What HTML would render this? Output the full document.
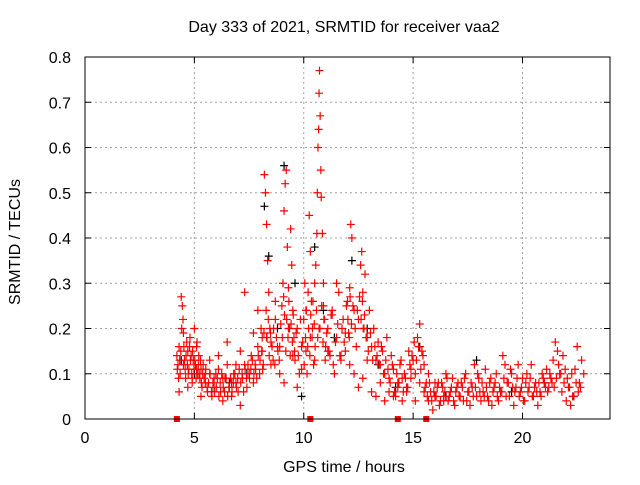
<!DOCTYPE html>
<html><head><meta charset="utf-8"><style>
body{margin:0;background:#fff}
svg text{font-family:"Liberation Sans",sans-serif;font-size:16px;fill:#000}
</style></head><body>
<svg id="chart" width="640" height="480" xmlns="http://www.w3.org/2000/svg">
<rect width="640" height="480" fill="#fff"/>
<g id="grid"></g>
<g id="ticks"></g>
<g id="black"></g>
<g id="red"></g>
<g id="marks"></g>
<rect x="85" y="57" width="525" height="362" fill="none" stroke="#000"/>
<text x="344" y="32" text-anchor="middle">Day 333 of 2021, SRMTID for receiver vaa2</text>
<text x="344" y="472" text-anchor="middle">GPS time / hours</text>
<text transform="translate(20,242) rotate(-90)" text-anchor="middle">SRMTID / TECUs</text>
</svg>
<script>
const xTicks=[0,5,10,15,20];
const yTicks=[0,0.1,0.2,0.3,0.4,0.5,0.6,0.7,0.8];
const yTickLabels=["0","0.1","0.2","0.3","0.4","0.5","0.6","0.7","0.8"];
const markerTimes=[4.2,10.3,14.3,15.6];
const redT=[4.2,4.25,4.3,4.35,4.4,4.45,4.5,4.55,4.6,4.65,4.7,4.75,4.8,4.85,4.9,4.95,5.0,5.05,5.1,5.15,5.2,5.25,5.3,5.35,5.4,5.5,5.6,5.7,5.8,5.9,6.0,6.1,6.2,6.3,6.4,6.5,6.6,6.7,6.8,6.9,7.0,7.1,7.2,7.3,7.4,7.5,7.6,7.7,7.8,7.9,8.0,8.05,8.1,8.15,8.2,8.25,8.3,8.35,8.4,8.45,8.5,8.6,8.7,8.8,8.9,9.0,9.05,9.1,9.15,9.2,9.25,9.3,9.35,9.4,9.45,9.5,9.55,9.6,9.7,9.8,9.9,10.0,10.05,10.1,10.15,10.2,10.25,10.3,10.35,10.4,10.45,10.5,10.55,10.6,10.62,10.65,10.68,10.7,10.72,10.75,10.78,10.8,10.85,10.9,10.95,11.0,11.1,11.2,11.3,11.4,11.5,11.6,11.7,11.8,11.9,12.0,12.05,12.1,12.15,12.2,12.3,12.4,12.5,12.6,12.65,12.7,12.75,12.8,12.9,13.0,13.1,13.2,13.3,13.4,13.5,13.6,13.7,13.8,13.9,14.0,14.1,14.2,14.3,14.4,14.5,14.6,14.7,14.8,14.9,15.0,15.1,15.2,15.3,15.4,15.5,15.6,15.7,15.8,15.9,16.0,16.1,16.2,16.3,16.4,16.5,16.6,16.7,16.8,16.9,17.0,17.1,17.2,17.3,17.4,17.5,17.6,17.7,17.8,17.9,18.0,18.1,18.2,18.3,18.4,18.5,18.6,18.7,18.8,18.9,19.0,19.1,19.2,19.3,19.4,19.5,19.6,19.7,19.8,19.9,20.0,20.1,20.2,20.3,20.4,20.5,20.6,20.7,20.8,20.9,21.0,21.1,21.2,21.3,21.4,21.5,21.6,21.7,21.8,21.9,22.0,22.1,22.2,22.3,22.4,22.5,22.6,22.7,22.8,4.3,4.5,4.7,4.9,5.1,5.3,5.5,5.7,5.9,6.1,6.3,6.5,6.7,6.9,7.1,7.3,7.5,7.7,7.9,8.1,8.3,8.5,8.7,8.9,9.1,9.3,9.5,9.7,9.9,10.1,10.3,10.5,10.7,10.9,11.1,11.3,11.5,11.7,11.9,12.1,12.3,12.5,12.7,12.9,13.1,13.3,13.5,13.7,13.9,14.1,14.3,14.5,14.7,14.9,15.1,15.3,15.5,15.7,16.0,16.4,16.8,17.2,17.6,18.0,18.4,18.8,19.2,19.6,20.0,20.4,20.8,21.2,21.6,22.0,22.4,22.7];
const redV=[0.14,0.12,0.16,0.1,0.27,0.25,0.19,0.13,0.09,0.17,0.15,0.11,0.18,0.14,0.08,0.13,0.2,0.12,0.16,0.1,0.14,0.09,0.11,0.07,0.12,0.08,0.06,0.1,0.05,0.09,0.07,0.11,0.06,0.04,0.09,0.12,0.07,0.05,0.1,0.08,0.06,0.03,0.09,0.12,0.07,0.1,0.14,0.08,0.11,0.16,0.13,0.2,0.18,0.12,0.54,0.5,0.43,0.35,0.28,0.2,0.17,0.13,0.22,0.16,0.1,0.25,0.3,0.46,0.52,0.55,0.38,0.29,0.2,0.42,0.34,0.24,0.18,0.13,0.2,0.1,0.16,0.22,0.3,0.15,0.1,0.28,0.45,0.37,0.26,0.2,0.12,0.3,0.34,0.41,0.5,0.6,0.64,0.72,0.77,0.67,0.55,0.49,0.41,0.3,0.22,0.16,0.2,0.14,0.24,0.1,0.18,0.28,0.13,0.22,0.15,0.26,0.19,0.29,0.43,0.4,0.24,0.16,0.22,0.34,0.37,0.28,0.2,0.32,0.18,0.24,0.16,0.2,0.13,0.17,0.12,0.15,0.1,0.18,0.09,0.14,0.11,0.05,0.08,0.12,0.04,0.1,0.07,0.15,0.09,0.13,0.1,0.18,0.21,0.15,0.12,0.08,0.04,0.06,0.02,0.05,0.07,0.03,0.08,0.05,0.1,0.04,0.06,0.09,0.03,0.07,0.05,0.08,0.04,0.1,0.06,0.03,0.07,0.12,0.05,0.09,0.04,0.06,0.11,0.05,0.08,0.03,0.07,0.1,0.04,0.06,0.14,0.12,0.08,0.05,0.1,0.03,0.07,0.12,0.06,0.09,0.04,0.1,0.07,0.12,0.05,0.08,0.03,0.06,0.1,0.08,0.11,0.07,0.09,0.13,0.17,0.15,0.1,0.06,0.08,0.04,0.07,0.03,0.05,0.11,0.16,0.08,0.13,0.1,0.06,0.12,0.07,0.09,0.11,0.05,0.1,0.13,0.07,0.14,0.09,0.17,0.08,0.12,0.15,0.28,0.1,0.19,0.24,0.15,0.18,0.12,0.26,0.16,0.08,0.2,0.14,0.07,0.11,0.24,0.18,0.13,0.2,0.25,0.15,0.23,0.3,0.14,0.19,0.12,0.1,0.07,0.09,0.13,0.06,0.05,0.08,0.04,0.06,0.05,0.07,0.09,0.06,0.11,0.04,0.08,0.06,0.1,0.08,0.04];
const redT2=[4.22,4.28,4.33,4.38,4.42,4.48,4.52,4.58,4.62,4.68,4.72,4.78,4.82,4.88,4.92,4.98,5.02,5.08,5.12,5.18,5.22,5.28,5.32,5.38,5.45,5.52,5.58,5.65,5.72,5.78,5.85,5.92,5.98,6.05,6.12,6.18,6.25,6.32,6.38,6.45,6.52,6.58,6.65,6.72,6.78,6.85,6.92,6.98,7.05,7.12,7.18,7.25,7.32,7.38,7.45,7.52,7.58,7.65,7.72,7.78,7.85,7.92,7.98,8.08,8.12,8.18,8.28,8.32,8.38,8.42,8.48,8.55,8.62,8.68,8.75,8.82,8.88,8.95,9.02,9.08,9.12,9.18,9.22,9.28,9.32,9.38,9.42,9.48,9.52,9.58,9.65,9.75,9.85,9.95,10.02,10.08,10.12,10.18,10.22,10.28,10.32,10.38,10.42,10.48,10.52,10.58,10.64,10.74,10.82,10.88,10.92,10.98,11.05,11.15,11.25,11.35,11.45,11.55,11.65,11.75,11.85,11.95,12.02,12.08,12.12,12.18,12.25,12.35,12.45,12.55,12.62,12.68,12.72,12.78,12.85,12.95,13.05,13.15,13.25,13.35,13.45,13.55,13.65,13.75,13.85,13.95,14.05,14.15,14.25,14.35,14.45,14.55,14.65,14.75,14.85,14.95,15.05,15.15,15.25,15.35,15.45,15.55,15.65,15.75,15.85,15.95,16.05,16.15,16.25,16.35,16.45,16.55,16.65,16.75,16.85,16.95,17.05,17.15,17.25,17.35,17.45,17.55,17.65,17.75,17.85,17.95,18.05,18.15,18.25,18.35,18.45,18.55,18.65,18.75,18.85,18.95,19.05,19.15,19.25,19.35,19.45,19.55,19.65,19.75,19.85,19.95,20.05,20.15,20.25,20.35,20.45,20.55,20.65,20.75,20.85,20.95,21.05,21.15,21.25,21.35,21.45,21.55,21.65,21.75,21.85,21.95,22.05,22.15,22.25,22.35,22.45,22.55,22.65,22.75];
const redV2=[0.11,0.09,0.13,0.15,0.2,0.22,0.16,0.11,0.14,0.12,0.1,0.16,0.13,0.1,0.15,0.11,0.13,0.09,0.17,0.12,0.1,0.13,0.08,0.1,0.09,0.11,0.07,0.08,0.1,0.06,0.08,0.06,0.1,0.09,0.05,0.08,0.1,0.07,0.06,0.09,0.05,0.07,0.09,0.06,0.08,0.1,0.07,0.09,0.11,0.08,0.1,0.06,0.11,0.09,0.12,0.09,0.11,0.13,0.1,0.12,0.09,0.14,0.1,0.15,0.11,0.19,0.24,0.18,0.22,0.14,0.19,0.16,0.2,0.12,0.18,0.15,0.13,0.21,0.18,0.27,0.23,0.15,0.22,0.18,0.26,0.14,0.21,0.17,0.23,0.15,0.19,0.14,0.22,0.17,0.12,0.18,0.24,0.16,0.2,0.14,0.23,0.18,0.26,0.21,0.16,0.24,0.18,0.2,0.25,0.17,0.22,0.13,0.19,0.15,0.23,0.12,0.17,0.21,0.14,0.2,0.17,0.25,0.22,0.18,0.27,0.21,0.25,0.2,0.24,0.27,0.22,0.26,0.2,0.23,0.18,0.15,0.19,0.13,0.16,0.14,0.12,0.16,0.1,0.13,0.11,0.08,0.12,0.06,0.1,0.08,0.13,0.06,0.09,0.07,0.12,0.14,0.17,0.13,0.16,0.11,0.14,0.07,0.05,0.08,0.04,0.06,0.05,0.08,0.04,0.07,0.06,0.09,0.05,0.07,0.04,0.06,0.08,0.05,0.07,0.09,0.04,0.06,0.08,0.05,0.07,0.1,0.06,0.08,0.05,0.07,0.04,0.09,0.06,0.08,0.05,0.07,0.06,0.09,0.05,0.08,0.11,0.07,0.06,0.09,0.05,0.07,0.04,0.08,0.06,0.09,0.05,0.07,0.06,0.08,0.05,0.09,0.07,0.06,0.1,0.08,0.07,0.09,0.12,0.1,0.14,0.11,0.09,0.07,0.1,0.05,0.08,0.06,0.07];
const blackT=[4.4,5.0,5.8,6.6,7.4,8.2,8.4,8.8,9.1,9.6,9.9,10.5,10.9,11.4,12.2,12.9,13.4,14.2,15.3,16.5,17.9,19.5,21.0,22.3];
const blackV=[0.13,0.1,0.06,0.08,0.1,0.47,0.36,0.2,0.56,0.3,0.05,0.38,0.24,0.18,0.35,0.2,0.12,0.07,0.16,0.05,0.13,0.06,0.08,0.05];
const x0=85,x1=610,y0=419,y1=57,xMax=24,yMax=0.8;
const X=t=>x0+(x1-x0)*t/xMax, Y=v=>y0-(y0-y1)*v/yMax;
const NS="http://www.w3.org/2000/svg";
function mk(tag,parent,attrs){const e=document.createElementNS(NS,tag);for(const k in attrs)e.setAttribute(k,attrs[k]);parent.appendChild(e);return e;}
const grid=document.getElementById('grid'),ticks=document.getElementById('ticks');
xTicks.forEach(t=>{
  if(t>0){const g=mk('line',grid,{x1:X(t),x2:X(t),y1:y0,y2:y1,stroke:'#a0a0a0','stroke-dasharray':'2,3'});
  
  }
  mk('line',ticks,{x1:X(t),x2:X(t),y1:y0,y2:y0-6,stroke:'#000'});
  mk('line',ticks,{x1:X(t),x2:X(t),y1:y1,y2:y1+6,stroke:'#000'});
  const l=mk('text',ticks,{x:X(t),y:y0+24,'text-anchor':'middle'});l.textContent=t;
  
  
});
yTicks.forEach((v,i)=>{
  if(v>0&&v<0.8){const g=mk('line',grid,{x1:x0,x2:x1,y1:Y(v),y2:Y(v),stroke:'#a0a0a0','stroke-dasharray':'2,3'});
  
  }
  mk('line',ticks,{x1:x0,x2:x0+6,y1:Y(v),y2:Y(v),stroke:'#000'});
  mk('line',ticks,{x1:x1,x2:x1-6,y1:Y(v),y2:Y(v),stroke:'#000'});
  const l=mk('text',ticks,{x:x0-14,y:Y(v)+6,'text-anchor':'end'});l.textContent=yTickLabels[i];
  
  
});
function plus(g,t,v,c){const x=X(t),y=Y(v);const p=mk('path',g,{d:`M${x-4},${y}h8M${x},${y-4}v8`,stroke:c,'stroke-width':1.2});
  
  }
const bg=document.getElementById('black'),rg=document.getElementById('red');
blackT.forEach((t,i)=>plus(bg,t,blackV[i],'#000'));
redT.forEach((t,i)=>plus(rg,t,redV[i],'#f00'));
redT2.forEach((t,i)=>plus(rg,t,redV2[i],'#f00'));
const mg=document.getElementById('marks');
markerTimes.forEach(t=>{const r=mk('rect',mg,{x:X(t)-3,y:y0-3,width:6,height:6,fill:'#f00'});
  
  });
</script>
</body></html>
